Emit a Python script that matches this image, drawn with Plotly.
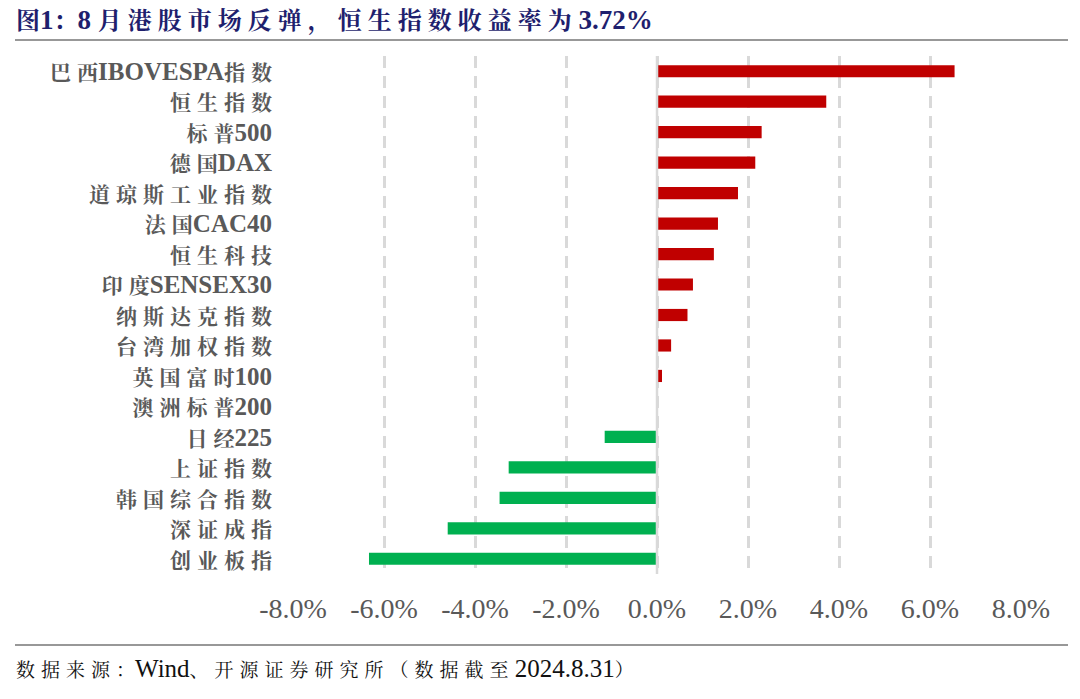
import re
import plotly.graph_objects as go

categories = ["巴西IBOVESPA指数", "恒生指数", "标普500", "德国DAX", "道琼斯工业指数",
              "法国CAC40", "恒生科技", "印度SENSEX30", "纳斯达克指数", "台湾加权指数",
              "英国富时100", "澳洲标普200", "日经225", "上证指数", "韩国综合指数",
              "深证成指", "创业板指"]
values = [6.54, 3.72, 2.30, 2.16, 1.78, 1.34, 1.25, 0.79, 0.67, 0.31,
          0.11, 0.0, -1.15, -3.26, -3.46, -4.60, -6.33]
tick_vals = [-8, -6, -4, -2, 0, 2, 4, 6, 8]
tick_text = ["-8.0%", "-6.0%", "-4.0%", "-2.0%", "0.0%", "2.0%", "4.0%", "6.0%", "8.0%"]
title_text = "图1：8 月港股市场反弹，恒生指数收益率为 3.72%"
source_text = "数据来源：Wind、开源证券研究所（数据截至 2024.8.31）"

RED = "#C00000"
GREEN = "#00B050"
colors = [RED if v >= 0 else GREEN for v in values]

W, H = 1080, 699
L, R, T, B = 293, 59, 56, 125
pw, ph = W - L - R, H - T - B


def px(x):
    return (x - L) / pw


def py(y):
    return (H - B - y) / ph


def cjk_span(s, size, spacing):
    # CJK runs get their own size and the wide character pitch of the original
    def rep(m):
        run = m.group(1)
        out = ""
        if len(run) > 1:
            out += f'<span style="font-size:{size}px;letter-spacing:{spacing}px">{run[:-1]}</span>'
        out += f'<span style="font-size:{size}px">{run[-1]}</span>'
        return out
    s = s.replace(" ", "\u00a0")
    return re.sub(r"([\u3000-\u9fff\uff00-\uffef]+)", rep, s)


serif = "Liberation Serif, Times New Roman, Noto Serif CJK SC, Noto Sans CJK SC, serif"

fig = go.Figure()
fig.add_trace(go.Bar(
    x=values, y=categories, orientation="h",
    marker=dict(color=colors, line=dict(width=0)),
    width=0.4, showlegend=False,
))

fig.update_layout(
    width=W, height=H,
    margin=dict(l=L, r=R, t=T, b=B, pad=0),
    paper_bgcolor="white", plot_bgcolor="white",
    xaxis=dict(
        range=[-8, 8], tickvals=tick_vals, ticktext=tick_text,
        showgrid=True, gridcolor="#D9D9D9", gridwidth=2.5, griddash="12px,8px",
        zeroline=False, showline=False, ticks="",
        tickfont=dict(family=serif, size=28, color="#595959"),
        ticklabelstandoff=15,
    ),
    yaxis=dict(
        categoryorder="array", categoryarray=categories[::-1],
        tickvals=categories, ticktext=[cjk_span(c, 21, 6) for c in categories],
        autorange=False, range=[-0.5, len(categories) - 0.5],
        showgrid=False, zeroline=False, showline=False, ticks="",
        tickfont=dict(family=serif, size=25, color="#595959", weight="bold"),
        ticklabelstandoff=20,
    ),
)

# zero line
fig.add_shape(type="line", xref="x", yref="paper", x0=0, x1=0, y0=0, y1=1,
              line=dict(color="#D9D9D9", width=2.5))

# header / footer rules
fig.add_shape(type="line", xref="paper", yref="paper",
              x0=px(15), x1=px(1068), y0=py(40), y1=py(40),
              line=dict(color="#333333", width=1.2))
fig.add_shape(type="line", xref="paper", yref="paper",
              x0=px(15), x1=px(1068), y0=py(645), y1=py(645),
              line=dict(color="#333333", width=1.2))

fig.add_annotation(text=cjk_span(title_text, 24, 6), xref="paper", yref="paper",
                   x=px(14), y=py(20), xanchor="left", yanchor="middle",
                   showarrow=False,
                   font=dict(family=serif, size=27, color="#1F1F6E", weight="bold"))
fig.add_annotation(text=cjk_span(source_text, 19, 6), xref="paper", yref="paper",
                   x=px(14), y=py(668), xanchor="left", yanchor="middle",
                   showarrow=False,
                   font=dict(family=serif, size=25, color="#111111"))

fig.write_html("out.html", config={"displayModeBar": False},
               post_script="document.body.style.margin='0';")
